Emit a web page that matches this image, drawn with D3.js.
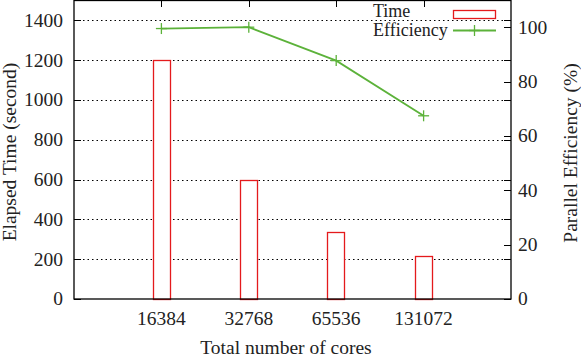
<!DOCTYPE html>
<html><head><meta charset="utf-8">
<script src="https://cdn.jsdelivr.net/npm/d3@7"></script>
<style>
html,body{margin:0;padding:0;background:#fff;}
</style></head>
<body><svg id="c" width="581" height="359"></svg>
<script>
const categories = ["16384","32768","65536","131072"];
const timeValues = [1203, 600, 338, 217];
const efficiencyValues = [99.5, 100, 87.7, 67.4];
const leftTicks = [0,200,400,600,800,1000,1200,1400];
const rightTicks = [0,20,40,60,80,100];

const svg = d3.select("#c").style("font-family","'Liberation Serif', 'Times New Roman', Times, 'DejaVu Serif', serif");
const L = 74, R = 511, T = 0.5, B = 299;
const FS = 19.5;
const x = d3.scaleLinear().domain([0,5]).range([L,R]);
const y = d3.scaleLinear().domain([0,1500]).range([B,T]);
const y2 = d3.scaleLinear().domain([0,110]).range([B,0]);
const red = "#e41a1c", green = "#5cb23a";

// grid
svg.append("g").selectAll("line").data(leftTicks.filter(d=>d>0)).join("line")
  .attr("x1",L).attr("x2",R).attr("y1",d=>Math.round(y(d))+0.5).attr("y2",d=>Math.round(y(d))+0.5)
  .attr("stroke","#000").attr("stroke-width",1).attr("stroke-dasharray","1.5,3");

// left/right y ticks (inward)
const tg = svg.append("g").attr("stroke","#000").attr("stroke-width",1);
leftTicks.forEach(d=>{
  const yy = Math.round(y(d))+0.5;
  tg.append("line").attr("x1",L).attr("x2",L+7).attr("y1",yy).attr("y2",yy);
  tg.append("line").attr("x1",R).attr("x2",R-7).attr("y1",yy).attr("y2",yy);
});
rightTicks.forEach(d=>{
  const yy = Math.round(y2(d))+0.5;
  tg.append("line").attr("x1",R).attr("x2",R-7).attr("y1",yy).attr("y2",yy);
});
categories.forEach((c,i)=>{
  const xx = Math.round(x(i+1))+0.5;
  tg.append("line").attr("x1",xx).attr("x2",xx).attr("y1",0).attr("y2",7);
});

// bars
const bw = (x(1)-x(0))*0.2;
svg.append("g").selectAll("rect").data(timeValues).join("rect")
  .attr("x",(d,i)=>Math.round(x(i+1)-bw/2)+0.5).attr("width",Math.round(bw))
  .attr("y",d=>Math.round(y(d))+0.5).attr("height",d=>Math.round(B)-Math.round(y(d)))
  .attr("fill","#fff").attr("stroke",red).attr("stroke-width",1.3);

// frame
svg.append("rect").attr("x",L).attr("y",0.5).attr("width",R-L).attr("height",B-0.5)
  .attr("fill","none").attr("stroke","#000").attr("stroke-width",1.3);

// efficiency line
const line = d3.line().x((d,i)=>x(i+1)).y(d=>y2(d));
svg.append("path").datum(efficiencyValues).attr("d",line)
  .attr("fill","none").attr("stroke",green).attr("stroke-width",1.8);
function plus(g,cx,cy,s){
  g.append("line").attr("x1",cx-s).attr("x2",cx+s).attr("y1",cy).attr("y2",cy);
  g.append("line").attr("x1",cx).attr("x2",cx).attr("y1",cy-s).attr("y2",cy+s);
}
const pg = svg.append("g").attr("stroke",green).attr("stroke-width",1.3);
efficiencyValues.forEach((d,i)=>plus(pg,x(i+1),y2(d),5.5));

// axis labels
const lab = svg.append("g").attr("font-size",FS).attr("fill","#222");
leftTicks.forEach(d=>{
  lab.append("text").attr("x",63).attr("y",y(d)).attr("dy","0.33em").attr("text-anchor","end").text(d);
});
rightTicks.forEach(d=>{
  lab.append("text").attr("x",518).attr("y",y2(d)).attr("dy","0.33em").attr("text-anchor","start").text(d);
});
categories.forEach((c,i)=>{
  lab.append("text").attr("x",x(i+1)).attr("y",325).attr("text-anchor","middle").text(c);
});
lab.append("text").attr("x",286).attr("y",354).attr("text-anchor","middle").text("Total number of cores");
lab.append("text").attr("transform","translate(16,152) rotate(-90)").attr("text-anchor","middle").text("Elapsed Time (second)");
lab.append("text").attr("transform","translate(577,153) rotate(-90)").attr("text-anchor","middle").text("Parallel Efficiency (%)");

// legend
const lg = svg.append("g").attr("font-size",18).attr("fill","#222");
lg.append("text").attr("x",373).attr("y",16.5).text("Time");
lg.append("text").attr("x",373).attr("y",36).text("Efficiency");
lg.append("rect").attr("x",453.5).attr("y",10.5).attr("width",42).attr("height",8)
  .attr("fill","none").attr("stroke",red).attr("stroke-width",1.3);
lg.append("line").attr("x1",453).attr("x2",496).attr("y1",30.5).attr("y2",30.5)
  .attr("stroke",green).attr("stroke-width",1.8);
plus(lg.append("g").attr("stroke",green).attr("stroke-width",1.3),474.5,30.5,5.5);
</script></body></html>
